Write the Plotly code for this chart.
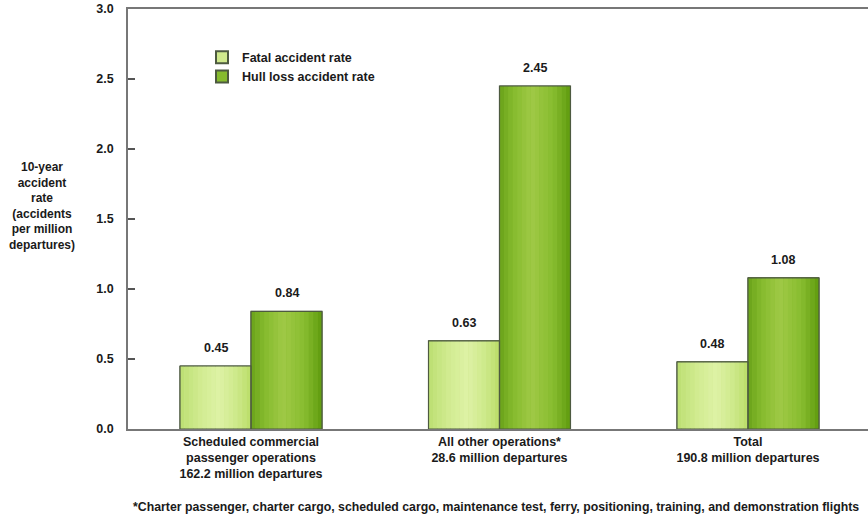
import plotly.graph_objects as go

categories = ["Scheduled commercial<br>passenger operations<br>162.2 million departures",
              "All other operations*<br>28.6 million departures",
              "Total<br>190.8 million departures"]
fatal_rate = [0.45, 0.63, 0.48]
hull_rate = [0.84, 2.45, 1.08]
series_names = ["Fatal accident rate", "Hull loss accident rate"]
y_ticks = [0.0, 0.5, 1.0, 1.5, 2.0, 2.5, 3.0]
y_title_lines = ["10-year", "accident", "rate", "(accidents", "per million", "departures)"]
footnote = "*Charter passenger, charter cargo, scheduled cargo, maintenance test, ferry, positioning, training, and demonstration flights"

FONT = "Arial, Liberation Sans, sans-serif"
TXT = "#1a1a1a"
BW = 0.2857
NSTRIP = 16

def hex2rgb(h):
    h = h.lstrip("#")
    return tuple(int(h[i:i + 2], 16) for i in (0, 2, 4))

def grad(stops, t):
    for (p0, c0), (p1, c1) in zip(stops, stops[1:]):
        if p0 <= t <= p1:
            f = (t - p0) / (p1 - p0) if p1 > p0 else 0
            a, b = hex2rgb(c0), hex2rgb(c1)
            return "rgb(%d,%d,%d)" % tuple(round(a[i] + (b[i] - a[i]) * f) for i in range(3))
    return stops[-1][1]

fatal_stops = [(0, "#bcdf72"), (0.3, "#d2ec92"), (0.55, "#def2a6"), (0.8, "#cde98a"), (1, "#badd68")]
hull_stops = [(0, "#6aa21a"), (0.2, "#86bb2e"), (0.45, "#a0c946"), (0.75, "#88bd30"), (1, "#5f9b0e")]

def b(s):
    return "<b>%s</b>" % s

fig = go.Figure()
x = list(range(len(categories)))

specs = [(fatal_rate, -BW, fatal_stops, "#cfe98c", series_names[0]),
         (hull_rate, 0.0, hull_stops, "#86bb2e", series_names[1])]

# base bars (legend)
for vals, off, stops, base, name in specs:
    fig.add_trace(go.Bar(x=x, y=vals, offset=off, width=BW, name=b(name),
                         marker=dict(color=base, line=dict(color="#4d5a40", width=1)),
                         showlegend=True, hoverinfo="skip"))
# gradient strips
for vals, off, stops, base, name in specs:
    for i in range(NSTRIP):
        t = (i + 0.5) / NSTRIP
        fig.add_trace(go.Bar(x=x, y=vals, offset=off + i * BW / NSTRIP, width=BW / NSTRIP * 1.02,
                             marker=dict(color=grad(stops, t), line=dict(width=0)),
                             showlegend=False, hoverinfo="skip"))
# outlines
for vals, off, stops, base, name in specs:
    fig.add_trace(go.Bar(x=x, y=vals, offset=off, width=BW,
                         marker=dict(color="rgba(0,0,0,0)", line=dict(color="#4d5a40", width=1.2)),
                         showlegend=False, name=name, hoverinfo="skip"))

annotations = []
for vals, off, stops, base, name in specs:
    for xi, v in zip(x, vals):
        annotations.append(dict(x=xi + off + BW / 2, y=v, xref="x", yref="y",
                                text=b("%.2f" % v), showarrow=False,
                                yanchor="bottom", yshift=9,
                                font=dict(family=FONT, size=12.5, color=TXT)))

annotations += [
    dict(text="<br>".join(b(l) for l in y_title_lines), xref="paper", yref="paper",
         x=-0.116, y=0.53, xanchor="center", yanchor="middle", showarrow=False,
         font=dict(family=FONT, size=12, color=TXT), align="center"),
    dict(text=b(footnote), xref="paper", yref="paper", x=0.99, y=-0.185,
         xanchor="right", yanchor="middle", showarrow=False,
         font=dict(family=FONT, size=12.3, color=TXT)),
]

fig.update_layout(
    width=868, height=518,
    margin=dict(l=128, r=0, t=9, b=89),
    barmode="overlay",
    plot_bgcolor="white", paper_bgcolor="white",
    font=dict(family=FONT, size=12, color=TXT),
    legend=dict(x=0.1, y=0.92, xanchor="left", yanchor="top",
                font=dict(family=FONT, size=12.5, color=TXT),
                bgcolor="rgba(0,0,0,0)", tracegroupgap=0, itemsizing="constant"),
    xaxis=dict(range=[-0.495, 2.483], tickmode="array", tickvals=x,
               ticktext=["<br>".join(b(p) for p in c.split("<br>")) for c in categories],
               showline=True, linecolor="#777777", linewidth=1.5, mirror=True,
               showgrid=False, ticks="", zeroline=False,
               tickfont=dict(family=FONT, size=12.5, color=TXT)),
    yaxis=dict(range=[0, 3.0], tickmode="array", tickvals=y_ticks,
               ticktext=[b("%.1f" % v) for v in y_ticks],
               showline=True, linecolor="#777777", linewidth=1.5, mirror=False,
               showgrid=False, zeroline=False, ticks="inside", ticklen=7,
               tickcolor="#555555", tickwidth=1.5, ticklabelstandoff=10,
               tickfont=dict(family=FONT, size=12.5, color=TXT)),
    annotations=annotations,
)

fig.write_html("out.html")
